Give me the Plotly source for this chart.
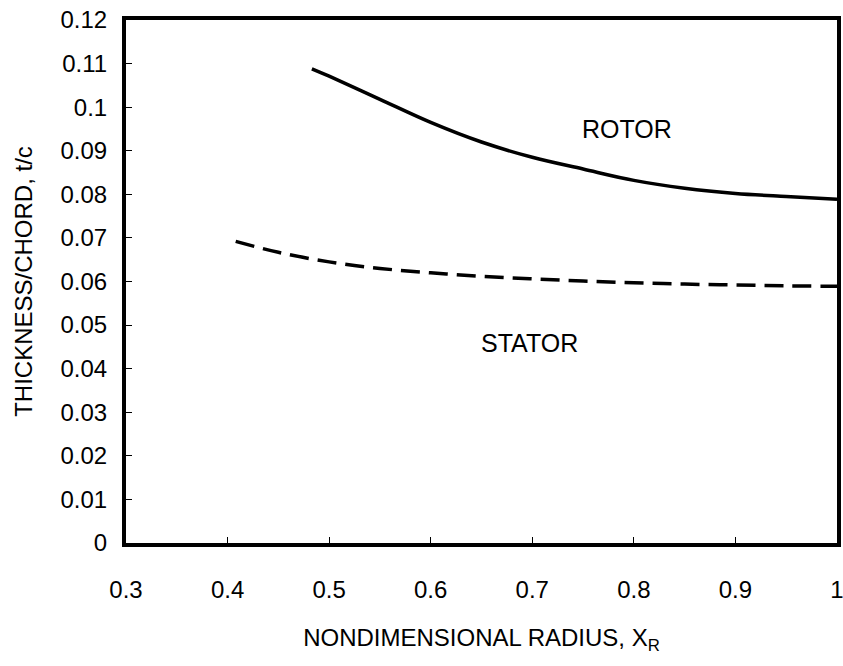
import plotly.graph_objects as go

# Rotor (solid) thickness/chord vs nondimensional radius
rotor_x = [0.483, 0.50, 0.55, 0.60, 0.65, 0.70, 0.75, 0.80, 0.85, 0.90, 0.95, 1.00]
rotor_y = [0.1088, 0.1071, 0.1018, 0.0965, 0.0920, 0.0885, 0.0858, 0.0832, 0.0814, 0.0802, 0.0795, 0.0789]

# Stator (dashed)
stator_x = [0.408, 0.45, 0.50, 0.55, 0.60, 0.65, 0.70, 0.75, 0.80, 0.85, 0.90, 0.95, 1.00]
stator_y = [0.0692, 0.0667, 0.0645, 0.0630, 0.0620, 0.0612, 0.0606, 0.0601, 0.0597, 0.0594, 0.0592, 0.0590, 0.0589]

x_ticks = [0.3, 0.4, 0.5, 0.6, 0.7, 0.8, 0.9, 1.0]
x_ticklabels = ["0.3", "0.4", "0.5", "0.6", "0.7", "0.8", "0.9", "1"]
y_ticks = [0, 0.01, 0.02, 0.03, 0.04, 0.05, 0.06, 0.07, 0.08, 0.09, 0.10, 0.11, 0.12]
y_ticklabels = ["0", "0.01", "0.02", "0.03", "0.04", "0.05", "0.06", "0.07", "0.08",
                "0.09", "0.1", "0.11", "0.12"]

labels = ["ROTOR", "STATOR"]
label_x = [0.793, 0.697]
label_y = [0.0951, 0.0460]

FONT = "Liberation Sans, Arial, sans-serif"

fig = go.Figure()
fig.add_trace(go.Scatter(x=rotor_x, y=rotor_y, mode="lines",
                         line=dict(color="black", width=3.5, shape="spline"),
                         showlegend=False, name="Rotor"))
fig.add_trace(go.Scatter(x=stator_x, y=stator_y, mode="lines",
                         line=dict(color="black", width=3.5, shape="spline", dash="19px,9px"),
                         showlegend=False, name="Stator"))

for t, xx, yy in zip(labels, label_x, label_y):
    fig.add_annotation(x=xx, y=yy, text=t, showarrow=False,
                       font=dict(family=FONT, size=25, color="black"))

fig.update_layout(
    width=843, height=666,
    margin=dict(l=126, r=6, t=20, b=123),
    paper_bgcolor="white", plot_bgcolor="white",
    font=dict(family=FONT, color="black"),
    xaxis=dict(range=[0.3, 1.0], tickvals=x_ticks, ticktext=x_ticklabels,
               showgrid=False, zeroline=False, automargin=False,
               ticklabeloverflow="allow",
               showline=True, linecolor="black", linewidth=4, mirror=True,
               ticks="inside", ticklen=6, tickwidth=1, tickcolor="black",
               tickfont=dict(family=FONT, size=24, color="black"),
               ticklabelstandoff=22,
               title=dict(text="NONDIMENSIONAL RADIUS, X<sub>R</sub>",
                          font=dict(family=FONT, size=24, color="black"),
                          standoff=28)),
    yaxis=dict(range=[0, 0.12], tickvals=y_ticks, ticktext=y_ticklabels,
               showgrid=False, zeroline=False, automargin=False,
               ticklabeloverflow="allow",
               showline=True, linecolor="black", linewidth=4, mirror=True,
               ticks="inside", ticklen=6, tickwidth=1, tickcolor="black",
               tickfont=dict(family=FONT, size=24, color="black"),
               ticklabelstandoff=10,
               title=dict(text="THICKNESS/CHORD, t/c",
                          font=dict(family=FONT, size=24, color="black"),
                          standoff=22)),
)

fig.write_html("out.html", config={"displayModeBar": False},
               post_script="document.body.style.margin='0';document.body.style.overflow='hidden';")
